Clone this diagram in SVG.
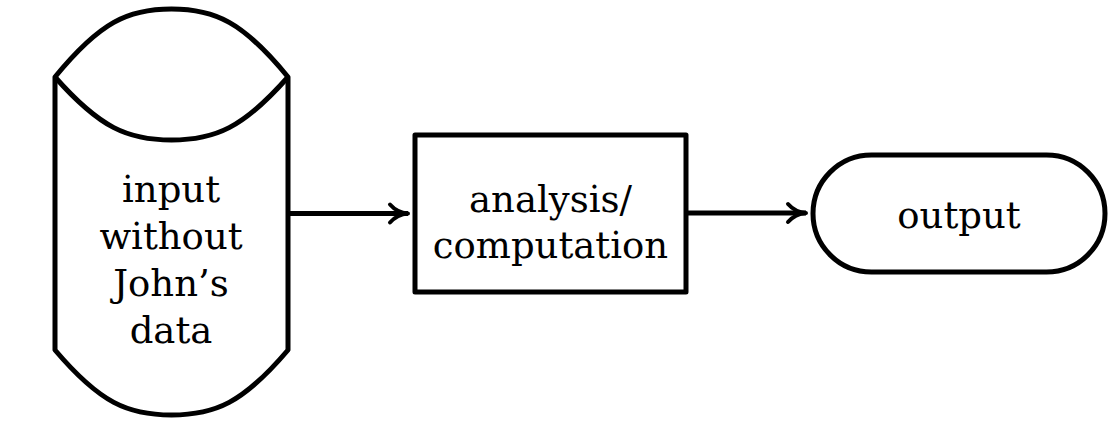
<svg xmlns="http://www.w3.org/2000/svg" width="1120" height="432" viewBox="0 0 1120 432">
<style>
.s{fill:none;stroke:#000;stroke-width:5;stroke-linejoin:round}
.t{font-family:"DejaVu Serif","Liberation Serif",serif;font-size:37px;fill:#000;text-anchor:middle}
.c{fill:none;stroke:#000;stroke-width:5}
</style>
<defs>
<marker id="ah" markerUnits="userSpaceOnUse" markerWidth="30" markerHeight="30" refX="3" refY="0" viewBox="-20 -15 30 30" orient="auto" overflow="visible">
<path d="M-15,-9 Q-8,-1 3,0 Q-8,1 -15,9" fill="none" stroke="#000" stroke-width="4" stroke-linecap="round" stroke-linejoin="round"/>
</marker>
</defs>
<rect width="1120" height="432" fill="#fff"/>
<g id="input">
<path class="s" d="M55,77 C100,22 128,9 171.5,9 C215,9 243,22 288,77 L288,350 C243,403 215,415 171.5,415 C128,415 100,403 55,350 Z"/>
<path class="s" d="M55,77 C100,128 128,140 171.5,140 C215,140 243,128 288,77"/>
<text class="t" x="171" y="202">input</text>
<text class="t" x="171" y="249">without</text>
<text class="t" x="171" y="296">John’s</text>
<text class="t" x="171" y="343">data</text>
</g>
<g id="analysis">
<rect class="s" x="415" y="135" width="271" height="157"/>
<text class="t" x="550.5" y="212">analysis/</text>
<text class="t" x="550.5" y="258">computation</text>
</g>
<g id="output">
<rect class="s" x="813" y="155" width="292" height="117" rx="58.5" ry="58.5"/>
<text class="t" x="959" y="228">output</text>
</g>
<g id="connectors">
<path class="c" d="M288,213.5 L408,213.5" marker-end="url(#ah)"/>
<path class="c" d="M686,213 L806,213" marker-end="url(#ah)"/>
</g>
</svg>
